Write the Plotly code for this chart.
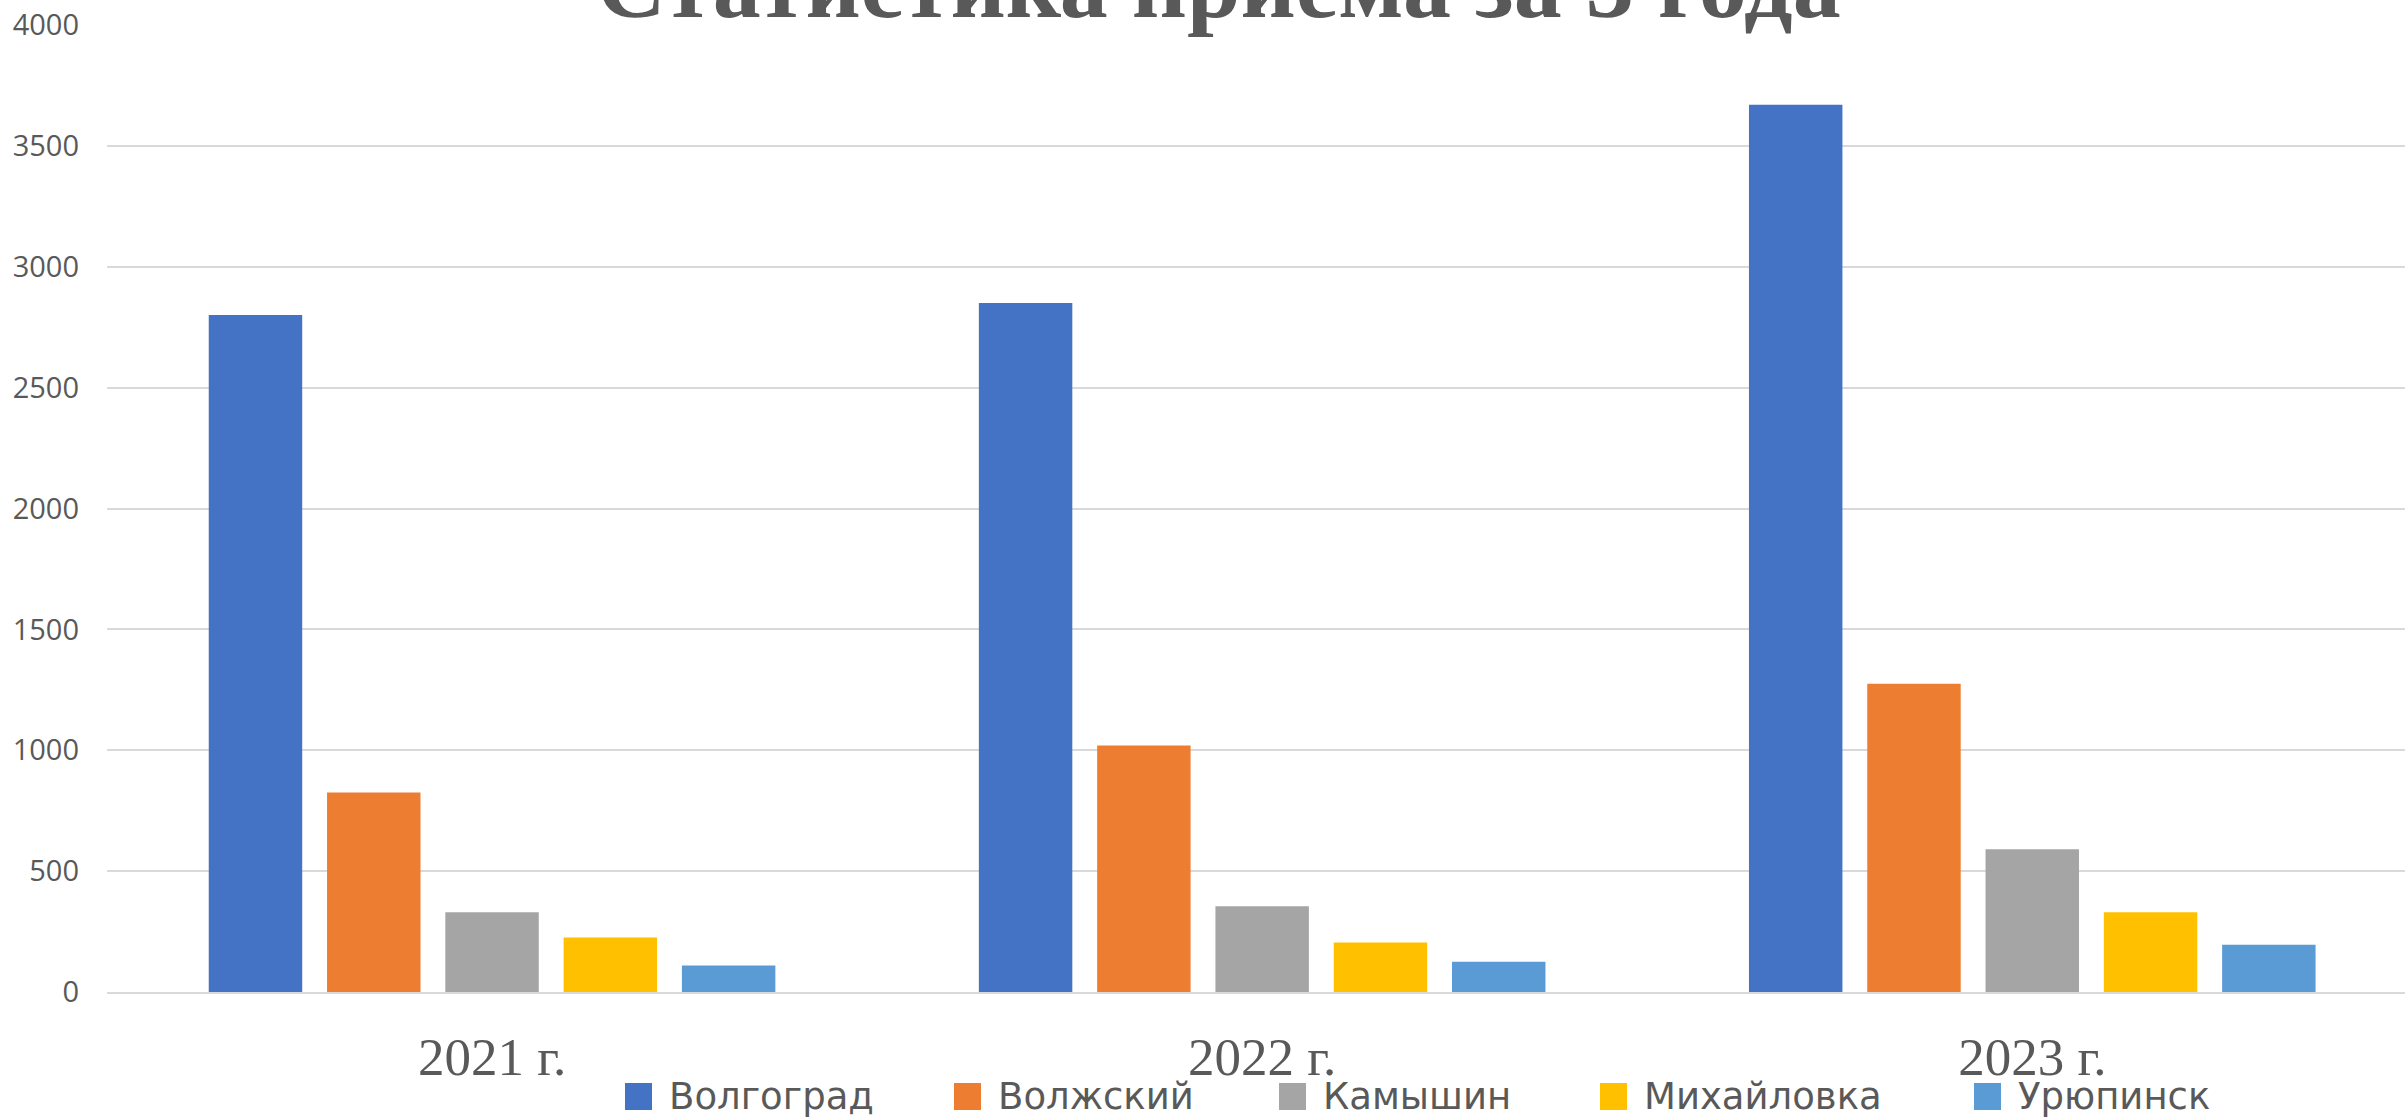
import plotly.graph_objects as go

# ---- data ----
years = ["2021 г.", "2022 г.", "2023 г."]
cities = ["Волгоград", "Волжский", "Камышин", "Михайловка", "Урюпинск"]
volgograd = [2800, 2850, 3670]
volzhsky = [825, 1020, 1275]
kamyshin = [330, 355, 590]
mikhailovka = [225, 205, 330]
uryupinsk = [110, 125, 195]
series = [volgograd, volzhsky, kamyshin, mikhailovka, uryupinsk]
colors = ["#4472C4", "#ED7D31", "#A5A5A5", "#FFC000", "#5B9BD5"]
title_text = "Статистика приема за 3 года"

# ---- layout constants (pixels) ----
W, H = 2405, 1120
ML, MR, MT, MB = 107, 0, 25, 128
PW, PH = W - ML - MR, H - MT - MB
TEXT = "#595959"
GRID = "#D9D9D9"

legend_sq_left = [625, 954, 1279, 1600, 1974]
legend_sq_top = 1083
legend_sq_size = 27
legend_text_gap = 42


def pxx(px):
    return (px - ML) / PW


def pxy(py):
    return (H - MB - py) / PH


fig = go.Figure()
for name, vals, col in zip(cities, series, colors):
    fig.add_trace(go.Bar(name=name, x=years, y=vals,
                         marker=dict(color=col, line=dict(width=0)),
                         showlegend=False))

shapes = []
annotations = []
for name, col, left in zip(cities, colors, legend_sq_left):
    shapes.append(dict(type="rect", xref="paper", yref="paper",
                       x0=pxx(left), x1=pxx(left + legend_sq_size),
                       y0=pxy(legend_sq_top + legend_sq_size), y1=pxy(legend_sq_top),
                       fillcolor=col, line=dict(width=0), layer="above"))
    annotations.append(dict(text=name, xref="paper", yref="paper",
                            x=pxx(left + legend_text_gap), xanchor="left",
                            y=pxy(legend_sq_top + legend_sq_size / 2), yanchor="middle",
                            showarrow=False,
                            font=dict(family="DejaVu Sans", size=37, color=TEXT)))

fig.update_layout(
    width=W, height=H, autosize=False,
    margin=dict(l=ML, r=MR, t=MT, b=MB, pad=0),
    paper_bgcolor="white", plot_bgcolor="white",
    barmode="group", bargap=0.232, bargroupgap=0.21,
    title=dict(text="<b>" + title_text + "</b>",
               font=dict(family="Liberation Serif", size=96, color=TEXT),
               x=1218.5 / W, xanchor="center", xref="container",
               y=1 - 17 / H, yanchor="bottom", yref="container"),
    xaxis=dict(type="category", range=[-0.5, 2.484], showgrid=False,
               showline=True, linecolor=GRID, linewidth=2, ticks="",
               tickfont=dict(family="Liberation Serif", size=53, color=TEXT),
               ticklabelstandoff=17),
    yaxis=dict(range=[0, 4000], dtick=500, tick0=0, showgrid=True,
               gridcolor=GRID, gridwidth=2, zeroline=False, showline=False,
               ticks="", tickfont=dict(family="Open Sans", size=29, color=TEXT),
               ticklabelstandoff=27),
    showlegend=False,
    shapes=shapes,
    annotations=annotations,
)

fig.write_html("out.html", config={"displayModeBar": False},
               post_script="document.body.style.margin='0';document.body.style.overflow='hidden';")
